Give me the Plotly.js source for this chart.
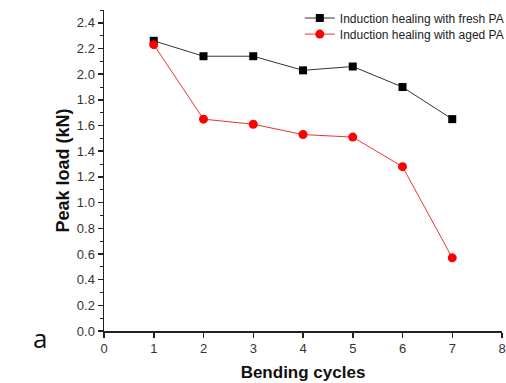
<!DOCTYPE html>
<html><head><meta charset="utf-8">
<script src="https://cdn.plot.ly/plotly-3.0.1.min.js"></script>
<style>body{margin:0;background:#fff}#c{width:506px;height:383px}</style>
</head><body><div id="c"></div>
<script>
const cycles = [1, 2, 3, 4, 5, 6, 7];
const freshPA = [2.26, 2.14, 2.14, 2.03, 2.06, 1.90, 1.65];
const agedPA = [2.23, 1.65, 1.61, 1.53, 1.51, 1.28, 0.57];
const seriesNames = ["Induction healing with fresh PA", "Induction healing with aged PA"];

const traces = [
  {x: cycles, y: freshPA, name: seriesNames[0], type: 'scatter', mode: 'lines+markers', legend: 'legend',
   line: {color: '#333333', width: 1}, marker: {symbol: 'square', size: 8, color: '#000000'}},
  {x: cycles, y: agedPA, name: seriesNames[1], type: 'scatter', mode: 'lines+markers', legend: 'legend2',
   line: {color: '#ee3333', width: 1}, marker: {symbol: 'circle', size: 9, color: '#ff0000'}}
];
const legStyle = (y) => ({x: 0.492, xanchor: 'left', y: y, yanchor: 'middle', bgcolor: 'rgba(0,0,0,0)',
  font: {size: 12, color: '#222'}, itemwidth: 30});
const layout = {
  width: 506, height: 383,
  margin: {l: 104, r: 4, t: 10, b: 52, autoexpand: false},
  paper_bgcolor: '#fff', plot_bgcolor: '#fff',
  font: {family: 'Liberation Sans, Arial, sans-serif', color: '#222', size: 13},
  showlegend: true,
  legend: legStyle(0.975),
  legend2: legStyle(0.925),
  xaxis: {range: [0, 8], dtick: 1, tick0: 0, showgrid: false, zeroline: false,
          showline: true, linecolor: '#222', linewidth: 1.5, ticks: 'outside', ticklen: 5,
          tickcolor: '#222', tickwidth: 1.5, tickfont: {size: 13, color: '#333'},
          title: {text: '<b>Bending cycles</b>', font: {size: 17, color: '#111'}, standoff: 11}},
  yaxis: {range: [0, 2.5], dtick: 0.2, tick0: 0, tickformat: '.1f', showgrid: false, zeroline: false,
          showline: true, linecolor: '#222', linewidth: 1.5, ticks: 'outside', ticklen: 5,
          tickcolor: '#222', tickwidth: 1.5, tickfont: {size: 13, color: '#333'},
          minor: {dtick: 0.1, ticks: 'outside', ticklen: 3, tickcolor: '#222', tickwidth: 1, showgrid: false},
          title: {text: '<b>Peak load (kN)</b>', font: {size: 18, color: '#111'}, standoff: 2}},
  annotations: [{text: 'a', xref: 'paper', yref: 'paper', x: -0.16, y: -0.022,
                 xanchor: 'center', yanchor: 'middle', showarrow: false,
                 font: {family: 'Open Sans, sans-serif', size: 26, color: '#111'}}]
};
Plotly.newPlot('c', traces, layout, {displayModeBar: false, staticPlot: true});
</script></body></html>
